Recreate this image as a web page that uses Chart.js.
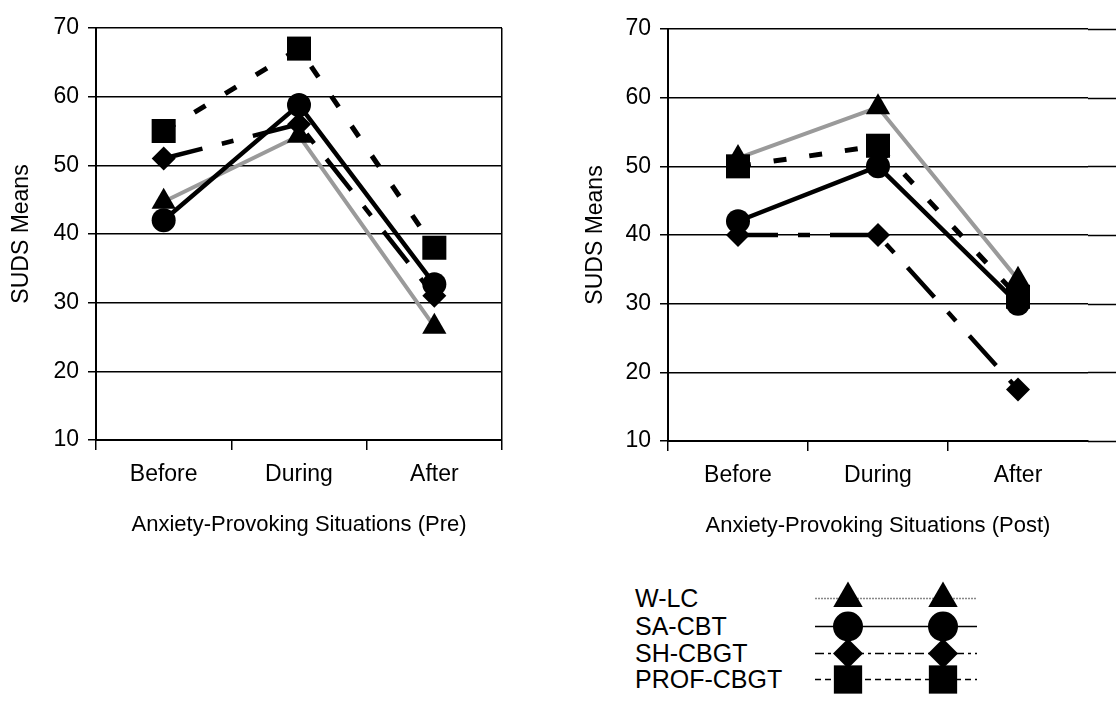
<!DOCTYPE html>
<html>
<head>
<meta charset="utf-8">
<title>SUDS Means</title>
<script src="https://cdn.jsdelivr.net/npm/chart.js@4.4.1/dist/chart.umd.min.js"></script>
<style>
    html, body { margin: 0; padding: 0; background: #fff; overflow: hidden; }
    body { width: 1116px; height: 703px; position: relative; font-family: "Liberation Sans", Arial, sans-serif; color: #000; }
    canvas { position: absolute; }
    #preChart { left: 0; top: 0; }
    #postChart { left: 574px; top: 1px; }
    #legendMarks { left: 800px; top: 575px; }
    .legend-label { position: absolute; left: 635px; font-size: 25px; line-height: 28px; height: 28px; white-space: nowrap; }
</style>
</head>
<body>
<canvas id="preChart" width="520" height="560"></canvas>
<canvas id="postChart" width="560" height="560"></canvas>
<canvas id="legendMarks" width="200" height="128"></canvas>
<div id="legendText"></div>

<script>
// situations on the x axis
const categories = ['Before', 'During', 'After']
const groups = ['W-LC', 'SA-CBT', 'SH-CBGT', 'PROF-CBGT']
const yTicks = [10, 20, 30, 40, 50, 60, 70]

// SUDS means, pre treatment
const preWLC = [44.7, 54.3, 26.5]
const preSACBT = [42, 58.8, 32.7]
const preSHCBGT = [51, 56, 31]
const prePROFCBGT = [55, 67, 38]

// SUDS means, post treatment
const postWLC = [51.2, 58.6, 33.5]
const postSACBT = [42, 50, 30]
const postSHCBGT = [40, 40, 17.5]
const postPROFCBGT = [50, 53, 31]

const FONT = '"Liberation Sans", Arial, sans-serif'

// line + marker look for each group
const styles = {
    'W-LC':      { point: 'triangle', radius: 14, line: '#9a9a9a', width: 4,   dash: [],               order: 4, legendLine: '#888', legendDash: [2, 1] },
    'SA-CBT':    { point: 'circle',   radius: 12, line: '#000',    width: 4.5, dash: [],               order: 2, legendLine: '#000', legendDash: [] },
    'SH-CBGT':   { point: 'rectRot',  radius: 12, line: '#000',    width: 4.5, dash: [40, 20, 12, 20], order: 3, legendLine: '#000', legendDash: [9, 4, 3, 4] },
    'PROF-CBGT': { point: 'rect',     radius: 17, line: '#000',    width: 5,   dash: [13, 23],         order: 1, legendLine: '#000', legendDash: [6, 4] }
}

function makeDatasets(values) {
    return groups.map((g, i) => {
        const s = styles[g]
        return {
            label: g,
            data: values[i],
            order: s.order,
            borderColor: s.line,
            borderWidth: s.width,
            borderDash: s.dash,
            borderCapStyle: 'butt',
            tension: 0,
            fill: false,
            pointStyle: s.point,
            pointRadius: s.radius,
            pointBackgroundColor: '#000',
            pointBorderWidth: 0
        }
    })
}

// carries the horizontal grid past the plot to the canvas edge
const extendGrid = {
    id: 'extendGrid',
    beforeDatasetsDraw(chart) {
        const { ctx, chartArea, scales } = chart
        const y = scales.y
        ctx.save()
        ctx.strokeStyle = '#000'
        ctx.lineWidth = 1.5
        y.ticks.forEach(t => {
            const py = Math.round(y.getPixelForValue(t.value)) + 0.5
            ctx.beginPath()
            ctx.moveTo(chartArea.right, py)
            ctx.lineTo(chart.width, py)
            ctx.stroke()
        })
        ctx.restore()
    }
}

function drawChart(id, values, xTitle, opts) {
    return new Chart(document.getElementById(id), {
        type: 'line',
        data: { labels: categories, datasets: makeDatasets(values) },
        plugins: opts.extend ? [extendGrid] : [],
        options: {
            responsive: false,
            animation: false,
            events: [],
            layout: { padding: { top: 28, right: opts.padRight, bottom: 0, left: 0 } },
            plugins: { legend: { display: false }, tooltip: { enabled: false } },
            scales: {
                x: {
                    offset: true,
                    border: { color: '#000', width: 2 },
                    grid: {
                        offset: true,
                        drawOnChartArea: true,
                        lineWidth: 1.5,
                        tickLength: 10,
                        // only the closing line on the right is drawn inside the plot
                        color: ctx => (ctx.type === 'tick' || !opts.closeRight) ? 'transparent' : '#000',
                        tickColor: ctx => (ctx.type === 'tick' || opts.closeRight) ? '#000' : 'transparent'
                    },
                    ticks: { color: '#000', font: { family: FONT, size: 23 }, padding: 11 },
                    title: { display: true, text: xTitle, color: '#000', font: { family: FONT, size: 22 }, padding: { top: 0, bottom: 22 } },
                    afterFit: s => { s.height = 120 }
                },
                y: {
                    min: 10,
                    max: 70,
                    afterBuildTicks: s => { s.ticks = yTicks.map(v => ({ value: v })) },
                    border: { color: '#000', width: 2 },
                    grid: { color: '#000', lineWidth: 1.5, tickLength: 8 },
                    ticks: { color: '#000', font: { family: FONT, size: 23 }, padding: 9 },
                    title: { display: true, text: 'SUDS Means', color: '#000', font: { family: FONT, size: 23 }, padding: { top: 8, bottom: 0 } },
                    afterFit: s => { s.width = opts.yWidth }
                }
            }
        }
    })
}

drawChart('preChart', [preWLC, preSACBT, preSHCBGT, prePROFCBGT], 'Anxiety-Provoking Situations (Pre)',
    { padRight: 18, yWidth: 96, closeRight: true, extend: false })
drawChart('postChart', [postWLC, postSACBT, postSHCBGT, postPROFCBGT], 'Anxiety-Provoking Situations (Post)',
    { padRight: 46, yWidth: 94, closeRight: false, extend: true })

// legend: labels as text, line samples with two markers each
function drawLegend() {
    const rowY = [23, 51, 78, 104]
    const legendRadius = { 'W-LC': 17, 'SA-CBT': 15, 'SH-CBGT': 15, 'PROF-CBGT': 20 }
    const box = document.getElementById('legendText')
    const ctx = document.getElementById('legendMarks').getContext('2d')
    groups.forEach((g, i) => {
        const s = styles[g]
        const div = document.createElement('div')
        div.className = 'legend-label'
        div.style.top = (575 + rowY[i] - 14) + 'px'
        div.textContent = g
        box.appendChild(div)

        const y = rowY[i] + 0.5
        ctx.save()
        ctx.strokeStyle = s.legendLine
        ctx.lineWidth = 1.5
        ctx.setLineDash(s.legendDash)
        ctx.beginPath()
        ctx.moveTo(15, y)
        ctx.lineTo(177, y)
        ctx.stroke()
        ctx.restore()

        ;[48, 143].forEach(x => {
            ctx.save()
            ctx.fillStyle = '#000'
            Chart.helpers.drawPoint(ctx, { pointStyle: s.point, radius: legendRadius[g], rotation: 0, borderWidth: 0 }, x, y)
            ctx.restore()
        })
    })
}
drawLegend()
</script>
</body>
</html>
